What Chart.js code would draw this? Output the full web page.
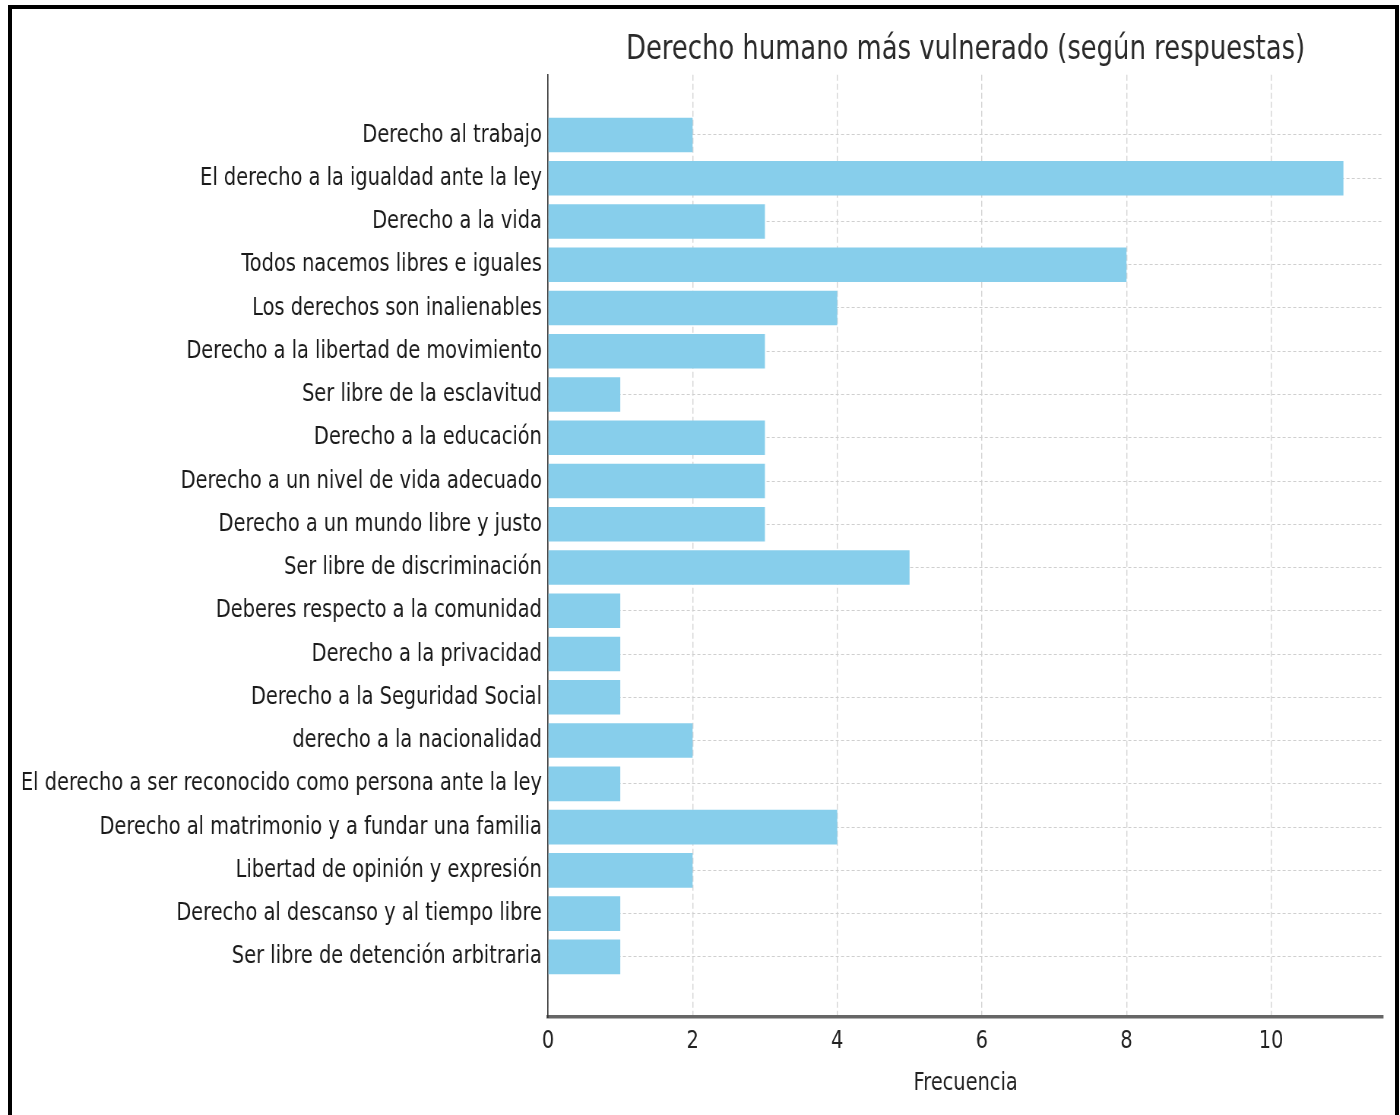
<!DOCTYPE html>
<html>
<head>
<meta charset="utf-8">
<title>Derecho humano más vulnerado</title>
<script src="https://cdn.jsdelivr.net/npm/chart.js@4.4.0/dist/chart.umd.min.js"></script>
<style>
  html, body { margin: 0; padding: 0; background: #fff; overflow: hidden; }
  /* the picture is squeezed sideways, so draw wide and compress */
  #wrap { position: absolute; left: 0; top: 0; width: 1842px; height: 1115px;
          transform: scaleX(0.76); transform-origin: 0 0; }
  #frame { position: absolute; left: 8px; top: 5px; width: 1391px; height: 1130px;
           border: 4px solid #000; box-sizing: border-box; pointer-events: none; }
</style>
</head>
<body>
<div id="wrap"><canvas id="myChart" width="1842" height="1115"></canvas></div>
<div id="frame"></div>
<script>
"use strict";

var categories = [
  "Derecho al trabajo",
  "El derecho a la igualdad ante la ley",
  "Derecho a la vida",
  "Todos nacemos libres e iguales",
  "Los derechos son inalienables",
  "Derecho a la libertad de movimiento",
  "Ser libre de la esclavitud",
  "Derecho a la educación",
  "Derecho a un nivel de vida adecuado",
  "Derecho a un mundo libre y justo",
  "Ser libre de discriminación",
  "Deberes respecto a la comunidad",
  "Derecho a la privacidad",
  "Derecho a la Seguridad Social",
  "derecho a la nacionalidad",
  "El derecho a ser reconocido como persona ante la ley",
  "Derecho al matrimonio y a fundar una familia",
  "Libertad de opinión y expresión",
  "Derecho al descanso y al tiempo libre",
  "Ser libre de detención arbitraria"
];
var counts = [2, 11, 3, 8, 4, 3, 1, 3, 3, 3, 5, 1, 1, 1, 2, 1, 4, 2, 1, 1];
var xTicks = [0, 2, 4, 6, 8, 10];

var FONT = "'DejaVu Sans', sans-serif";

function start() {
  var points = categories.map(function (c, i) {
    return { x: counts[i], y: i };
  });

  new Chart(document.getElementById("myChart"), {
    type: "bar",
    data: {
      datasets: [
        {
          label: "Frecuencia",
          data: points,
          backgroundColor: "#87CEEB",
          borderWidth: 0,
          barPercentage: 0.8,
          categoryPercentage: 1.0,
        },
      ],
    },
    options: {
      indexAxis: "y",
      responsive: false,
      animation: false,
      devicePixelRatio: 1,
      layout: { padding: { left: 0, right: 22, top: 0, bottom: 0 } },
      plugins: {
        legend: { display: false },
        tooltip: { enabled: false },
        title: {
          display: true,
          text: "Derecho humano más vulnerado (según respuestas)",
          fullSize: false,
          color: "#2a2a2a",
          font: { family: FONT, size: 34, weight: "normal" },
          padding: { top: 30, bottom: 4 },
        },
      },
      scales: {
        x: {
          type: "linear",
          min: 0,
          max: 11.55,
          z: 1,
          afterBuildTicks: function (axis) {
            axis.ticks = xTicks.map(function (v) { return { value: v }; });
          },
          afterFit: function (axis) { axis.height = 98; },
          grid: {
            color: "#d4d4d4",
            lineWidth: 1.4,
            drawTicks: false,
          },
          border: { display: true, color: "#666", width: 3.5, dash: [6, 3] },
          ticks: {
            color: "#222",
            padding: 9,
            font: { family: FONT, size: 25.5 },
          },
          title: {
            display: true,
            text: "Frecuencia",
            color: "#222",
            font: { family: FONT, size: 25.5 },
            padding: { top: 0, bottom: 16 },
          },
        },
        y: {
          type: "linear",
          reverse: true,
          offset: false,
          min: -1.39,
          max: 20.39,
          z: 1,
          afterBuildTicks: function (axis) {
            axis.ticks = categories.map(function (c, i) { return { value: i }; });
          },
          afterFit: function (axis) { axis.width = 721; },
          grid: {
            offset: false,
            color: "#cfcfcf",
            lineWidth: 1,
            drawTicks: false,
          },
          border: { display: true, color: "#333", width: 1.6, dash: [4, 3] },
          ticks: {
            color: "#1a1a1a",
            padding: 8,
            autoSkip: false,
            font: { family: FONT, size: 25.5 },
            callback: function (value) { return categories[value]; },
          },
        },
      },
    },
  });
}

document.addEventListener("DOMContentLoaded", start);
</script>
</body>
</html>
